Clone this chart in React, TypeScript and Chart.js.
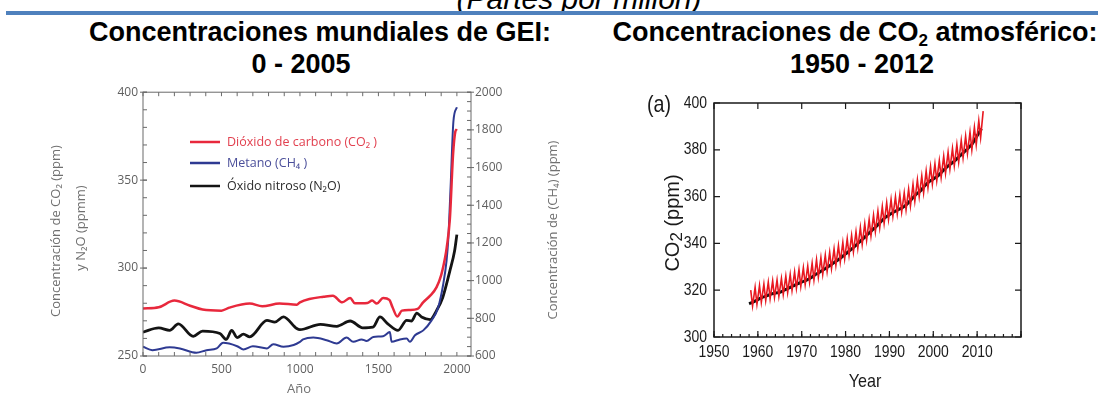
import React, { useEffect, useRef } from "react";
import { Chart, registerables } from "chart.js";

Chart.register(...registerables);

// ---------- Global GHG concentrations, year 0 – 2005 ----------
// [year, ppm] carbon dioxide (left axis)
const co2Ice: [number, number][] = [
  [0, 277], [100, 277.7], [200, 281.5], [300, 278.6], [380, 276.4], [500, 275.8], [550, 277.5],
  [680, 279.8], [760, 278.3], [870, 279.8], [980, 279.2], [1000, 280.5], [1060, 282.4], [1150, 283.7],
  [1210, 284.3], [1270, 280.5], [1320, 283], [1350, 280], [1430, 280.2], [1460, 281.5], [1490, 279.8],
  [1530, 283], [1570, 281.9], [1590, 277.7], [1620, 272.5], [1650, 275.8], [1700, 276.2], [1750, 276.8],
  [1785, 280.5], [1830, 284.3], [1870, 289], [1900, 296], [1925, 306], [1935, 311.5], [1955, 327.5],
  [1976, 365], [1990, 377.5], [2000, 379],
];
// [year, ppb] methane (right axis)
const ch4Ice: [number, number][] = [
  [0, 649], [60, 631], [170, 646], [235, 640], [340, 617], [405, 631], [470, 640], [510, 670],
  [600, 652], [640, 635], [700, 652], [790, 640], [830, 663], [895, 649], [960, 658], [1000, 675],
  [1020, 688], [1085, 698], [1170, 684], [1235, 667], [1297, 698], [1340, 675], [1393, 688],
  [1425, 680], [1467, 701], [1530, 705], [1573, 727], [1584, 675], [1637, 688], [1680, 693],
  [1701, 675], [1733, 710], [1786, 736], [1839, 789], [1881, 858], [1913, 981], [1934, 1103],
  [1945, 1217], [1960, 1496], [1978, 1846], [2000, 1920],
];
// [year, ppb] nitrous oxide (left axis)
const n2oIce: [number, number][] = [
  [0, 263.6], [100, 266], [170, 264.6], [225, 268.3], [320, 261.2], [380, 264.2], [490, 262.8],
  [530, 259.4], [565, 264.6], [600, 260.5], [640, 262.4], [680, 260.9], [790, 270.2], [840, 269.3],
  [895, 272.2], [980, 265.6], [1000, 265], [1130, 268], [1235, 266.9], [1320, 269.9], [1400, 266],
  [1465, 266.4], [1510, 272.2], [1560, 268.3], [1625, 264.6], [1680, 270.2], [1710, 269.9],
  [1745, 274.4], [1775, 272.2], [1830, 270.7], [1870, 275.8], [1910, 283.3], [1955, 298.3],
  [1985, 309.5], [2000, 319],
];
const ghgYearTicks = [0, 500, 1000, 1500, 2000];
const ghgPpmTicks = [250, 300, 350, 400];
const ghgPpbTicks = [600, 800, 1000, 1200, 1400, 1600, 1800, 2000];

// ---------- Atmospheric CO2, 1958 – 2011 ----------
const mloYears = [
  1958, 1959, 1960, 1961, 1962, 1963, 1964, 1965, 1966, 1967,
  1968, 1969, 1970, 1971, 1972, 1973, 1974, 1975, 1976, 1977,
  1978, 1979, 1980, 1981, 1982, 1983, 1984, 1985, 1986, 1987,
  1988, 1989, 1990, 1991, 1992, 1993, 1994, 1995, 1996, 1997,
  1998, 1999, 2000, 2001, 2002, 2003, 2004, 2005, 2006, 2007,
  2008, 2009, 2010, 2011,
];
// May maximum of each year
const mloPeak = [
  320.0, 321.2, 322.0, 322.6, 323.4, 324.0, 324.4, 325.0, 326.0, 326.8,
  327.8, 328.8, 329.6, 330.3, 331.6, 333.0, 333.9, 335.0, 336.2, 337.6,
  339.0, 340.4, 342.0, 343.4, 345.0, 346.8, 348.4, 350.2, 352.0, 353.8,
  355.8, 357.4, 358.8, 359.9, 360.8, 361.6, 363.2, 365.2, 367.2, 368.8,
  371.0, 372.8, 374.0, 375.4, 377.2, 379.0, 380.6, 382.2, 384.0, 385.8,
  387.6, 389.6, 392.4, 396.5,
];
// October minimum of each year
const mloTrough = [
  313.3, 314.0, 314.8, 315.6, 316.4, 317.0, 317.4, 318.2, 319.0, 319.9,
  320.8, 321.6, 322.4, 323.4, 324.4, 325.6, 326.8, 328.0, 329.2, 330.6,
  332.0, 333.4, 334.9, 336.4, 338.0, 339.6, 341.4, 343.2, 345.0, 346.8,
  348.6, 350.2, 351.6, 352.6, 353.4, 354.4, 356.0, 358.0, 360.0, 361.6,
  363.8, 365.4, 366.8, 368.2, 370.0, 371.8, 373.2, 374.8, 376.6, 378.4,
  380.0, 382.2, 385.2,
];
// seasonally adjusted trend
const mloTrend = [
  314.2, 315.0, 316.0, 316.9, 317.6, 318.3, 318.8, 319.1, 320.0, 320.9,
  321.8, 322.7, 323.5, 324.2, 325.2, 326.5, 327.6, 328.8, 330.0, 331.3,
  332.6, 334.0, 335.5, 337.0, 338.6, 340.3, 342.0, 343.8, 345.6, 347.3,
  349.2, 351.0, 352.3, 353.4, 354.4, 355.3, 356.8, 358.8, 360.8, 362.3,
  364.5, 366.3, 367.5, 368.8, 370.6, 372.5, 374.0, 375.5, 377.3, 379.0,
  380.8, 382.9, 386.0, 389.0,
];
const PEAK_MONTH = 5;
const TROUGH_MONTH = 10;
const mloYearTicks = [1950, 1960, 1970, 1980, 1990, 2000, 2010];
const mloPpmTicks = [300, 320, 340, 360, 380, 400];

const pairs = (rows: [number, number][]) => rows.map(([x, y]) => ({ x, y }));

// Box frame with inward tick marks
const framePlugin = {
  id: "frame",
  afterDatasetsDraw(chart: any, _args: any, opts: any) {
    if (!opts || !opts.color) return;
    const { ctx, chartArea: a } = chart;
    ctx.save();
    ctx.strokeStyle = opts.color;
    ctx.lineWidth = opts.width;
    ctx.strokeRect(a.left, a.top, a.right - a.left, a.bottom - a.top);
    ctx.lineWidth = opts.tickWidth || opts.width;
    for (const t of opts.ticks || []) {
      const s = chart.scales[t.scale];
      const first = Math.ceil(s.min / t.step - 1e-9);
      const last = Math.floor(s.max / t.step + 1e-9);
      const inn = t.len;
      const out = t.out || 0;
      ctx.beginPath();
      for (let k = first; k <= last; k++) {
        const v = k * t.step;
        if (t.side === "left") {
          const y = s.getPixelForValue(v);
          ctx.moveTo(a.left - out, y);
          ctx.lineTo(a.left + inn, y);
        } else if (t.side === "right") {
          const y = s.getPixelForValue(v);
          ctx.moveTo(a.right + out, y);
          ctx.lineTo(a.right - inn, y);
        } else if (t.side === "top") {
          const x = s.getPixelForValue(v);
          ctx.moveTo(x, a.top - out);
          ctx.lineTo(x, a.top + inn);
        } else {
          const x = s.getPixelForValue(v);
          ctx.moveTo(x, a.bottom + out);
          ctx.lineTo(x, a.bottom - inn);
        }
      }
      ctx.stroke();
    }
    ctx.restore();
  },
};

// Tick labels in a horizontally condensed face
const condensedTicksPlugin = {
  id: "condensedTicks",
  afterDraw(chart: any, _args: any, opts: any) {
    if (!opts || !opts.font) return;
    const { ctx, chartArea: a } = chart;
    ctx.save();
    ctx.font = opts.font;
    ctx.fillStyle = opts.color;
    ctx.textBaseline = "middle";
    const xs = chart.scales.x;
    ctx.textAlign = "center";
    for (const t of xs.ticks) {
      ctx.save();
      ctx.translate(xs.getPixelForValue(t.value), a.bottom + opts.xGap);
      ctx.scale(opts.sx, 1);
      ctx.fillText(String(t.value), 0, 0);
      ctx.restore();
    }
    const ys = chart.scales.y;
    ctx.textAlign = "right";
    for (const t of ys.ticks) {
      ctx.save();
      ctx.translate(a.left - opts.yGap, ys.getPixelForValue(t.value));
      ctx.scale(opts.sx, 1);
      ctx.fillText(String(t.value), 0, 0);
      ctx.restore();
    }
    ctx.restore();
  },
};

// Free text (axis titles, panel letter), optionally rotated, condensed or in mixed sizes
const notesPlugin = {
  id: "notes",
  afterDraw(chart: any, _args: any, opts: any) {
    if (!opts || !opts.items) return;
    const ctx = chart.ctx;
    for (const it of opts.items) {
      ctx.save();
      ctx.translate(it.x, it.y);
      if (it.rot) ctx.rotate(it.rot);
      if (it.sx) ctx.scale(it.sx, 1);
      ctx.fillStyle = it.color;
      ctx.textBaseline = "middle";
      ctx.textAlign = "left";
      const parts = it.parts || [{ t: it.text, font: it.font }];
      let total = 0;
      for (const p of parts) {
        ctx.font = p.font;
        total += ctx.measureText(p.t).width;
      }
      let cx = -total / 2;
      for (const p of parts) {
        ctx.font = p.font;
        ctx.fillText(p.t, cx, p.dy || 0);
        cx += ctx.measureText(p.t).width;
      }
      ctx.restore();
    }
  },
};

// Line-sample key drawn inside the plot from the dataset labels
const lineKeyPlugin = {
  id: "lineKey",
  afterDraw(chart: any, _args: any, opts: any) {
    if (!opts || !opts.ys) return;
    const ctx = chart.ctx;
    ctx.save();
    ctx.font = opts.font;
    ctx.textBaseline = "middle";
    chart.data.datasets.forEach((ds: any, i: number) => {
      const y = opts.ys[i];
      ctx.strokeStyle = ds.borderColor;
      ctx.lineWidth = opts.lineWidth;
      ctx.beginPath();
      ctx.moveTo(opts.x1, y);
      ctx.lineTo(opts.x2, y);
      ctx.stroke();
      ctx.fillStyle = opts.textColors[i];
      ctx.fillText(ds.label, opts.tx, y);
    });
    ctx.restore();
  },
};

Chart.register(framePlugin, condensedTicksPlugin, notesPlugin, lineKeyPlugin);

const setTicks = (vals: number[]) => (s: any) => {
  s.ticks = vals.map((v) => ({ value: v }));
};
const plain = (v: any) => String(v);

const GREY = "#6a6a6a";
const SANS = '"Open Sans", "Noto Sans", sans-serif';
const ARIAL = '"Liberation Sans", Arial, sans-serif';
const noGrid = { display: false, drawTicks: false };

function ghgConfig(): any {
  return {
    type: "line",
    data: {
      datasets: [
        {
          label: "Dióxido de carbono (CO₂ )",
          data: pairs(co2Ice),
          yAxisID: "y",
          borderColor: "#e8283c",
          borderWidth: 2.5,
        },
        {
          label: "Metano (CH₄ )",
          data: pairs(ch4Ice),
          yAxisID: "y2",
          borderColor: "#2e3a92",
          borderWidth: 2,
        },
        {
          label: "Óxido nitroso (N₂O)",
          data: pairs(n2oIce),
          yAxisID: "y",
          borderColor: "#141414",
          borderWidth: 2.8,
        },
      ],
    },
    options: {
      animation: false,
      responsive: false,
      devicePixelRatio: 1,
      parsing: false,
      elements: { point: { radius: 0 }, line: { cubicInterpolationMode: "monotone" } },
      layout: { padding: { top: 9, right: 0, bottom: 0, left: 0 } },
      plugins: {
        legend: { display: false },
        tooltip: { enabled: false },
        frame: {
          color: GREY,
          width: 1,
          ticks: [
            { scale: "y", side: "left", step: 10, len: 4 },
            { scale: "y", side: "left", step: 50, len: 4, out: 3 },
            { scale: "y2", side: "right", step: 50, len: 4 },
            { scale: "y2", side: "right", step: 200, len: 4, out: 3 },
            { scale: "x", side: "bottom", step: 100, len: 4 },
            { scale: "x", side: "top", step: 100, len: 4 },
          ],
        },
        lineKey: {
          x1: 190,
          x2: 220,
          tx: 227,
          ys: [62, 83, 106],
          lineWidth: 2.5,
          font: `12.5px ${SANS}`,
          textColors: ["#e2404f", "#4b4f9a", "#2b2b2b"],
        },
        notes: {
          items: [
            { text: "Concentración de CO₂ (ppm)", x: 56, y: 151, rot: -Math.PI / 2, font: `13px ${SANS}`, color: "#707070" },
            { text: "y N₂O (ppmm)", x: 81, y: 148, rot: -Math.PI / 2, font: `13px ${SANS}`, color: "#707070" },
            { text: "Concentración de (CH₄) (ppm)", x: 553, y: 150, rot: -Math.PI / 2, font: `13px ${SANS}`, color: "#707070" },
            { text: "Año", x: 299, y: 309, font: `13px ${SANS}`, color: "#707070" },
            { text: "IPCC(2007)", x: 86, y: 327, font: `13px ${SANS}`, color: "#9a9a9a" },
          ],
        },
      },
      scales: {
        x: {
          type: "linear",
          min: 0,
          max: 2090,
          afterBuildTicks: setTicks(ghgYearTicks),
          afterFit: (s: any) => { s.height = 45; },
          grid: noGrid,
          border: { display: false },
          ticks: { color: "#5f5f5f", font: { family: SANS, size: 12 }, padding: 6, maxRotation: 0, callback: plain },
        },
        y: {
          position: "left",
          min: 250,
          max: 400,
          afterBuildTicks: setTicks(ghgPpmTicks),
          afterFit: (s: any) => { s.width = 143; },
          grid: noGrid,
          border: { display: false },
          ticks: { color: "#5f5f5f", font: { family: SANS, size: 12 }, padding: 5, callback: plain },
        },
        y2: {
          position: "right",
          min: 600,
          max: 2000,
          afterBuildTicks: setTicks(ghgPpbTicks),
          afterFit: (s: any) => { s.width = 129; },
          grid: noGrid,
          border: { display: false },
          ticks: { color: "#5f5f5f", font: { family: SANS, size: 12 }, padding: 4, callback: plain },
        },
      },
    },
  };
}

function mloConfig(): any {
  const monthly: { x: number; y: number }[] = [];
  mloYears.forEach((yr, i) => {
    monthly.push({ x: yr + (PEAK_MONTH - 0.5) / 12, y: mloPeak[i] });
    if (i < mloTrough.length) monthly.push({ x: yr + (TROUGH_MONTH - 0.5) / 12, y: mloTrough[i] });
  });
  const trend = mloYears.map((yr, i) => ({ x: yr, y: mloTrend[i] }));
  return {
    type: "line",
    data: {
      datasets: [
        { label: "monthly", data: monthly, borderColor: "#e81820", borderWidth: 1.6, tension: 0 },
        { label: "trend", data: trend, borderColor: "#111111", borderWidth: 3, cubicInterpolationMode: "monotone" },
      ],
    },
    options: {
      animation: false,
      responsive: false,
      devicePixelRatio: 1,
      parsing: false,
      elements: { point: { radius: 0 } },
      layout: { padding: { top: 23, right: 83, bottom: 0, left: 0 } },
      plugins: {
        legend: { display: false },
        tooltip: { enabled: false },
        frame: {
          color: "#1a1a1a",
          width: 1.5,
          tickWidth: 1.2,
          ticks: [
            { scale: "x", side: "bottom", step: 10, len: 6 },
            { scale: "x", side: "bottom", step: 2, len: 3 },
            { scale: "x", side: "top", step: 10, len: 6 },
            { scale: "y", side: "left", step: 20, len: 6 },
            { scale: "y", side: "right", step: 20, len: 6 },
          ],
        },
        condensedTicks: {
          font: `17px ${ARIAL}`,
          color: "#1a1a1a",
          sx: 0.82,
          xGap: 15,
          yGap: 7,
        },
        notes: {
          items: [
            { text: "(a)", x: 59, y: 25, sx: 0.82, font: `24px ${ARIAL}`, color: "#1a1a1a" },
            {
              x: 73,
              y: 143,
              rot: -Math.PI / 2,
              color: "#1a1a1a",
              parts: [
                { t: "CO", font: `20px ${ARIAL}` },
                { t: "2", font: `17px ${ARIAL}`, dy: 4 },
                { t: " (ppm)", font: `20px ${ARIAL}` },
              ],
            },
            { text: "Year", x: 265, y: 302, sx: 0.85, font: `19px ${ARIAL}`, color: "#1a1a1a" },
          ],
        },
      },
      scales: {
        x: {
          type: "linear",
          min: 1950,
          max: 2020,
          afterBuildTicks: setTicks(mloYearTicks),
          afterFit: (s: any) => { s.height = 64; },
          grid: noGrid,
          border: { display: false },
          ticks: { display: false },
        },
        y: {
          position: "left",
          min: 300,
          max: 400,
          afterBuildTicks: setTicks(mloPpmTicks),
          afterFit: (s: any) => { s.width = 114; },
          grid: noGrid,
          border: { display: false },
          ticks: { display: false },
        },
      },
    },
  };
}

function Line({ cx, base, size, children, style }: any) {
  return (
    <div
      style={{
        position: "absolute",
        left: cx,
        top: base - 0.8465 * size,
        transform: "translateX(-50%)",
        whiteSpace: "nowrap",
        fontFamily: ARIAL,
        fontSize: size,
        lineHeight: `${size}px`,
        color: "#000",
        ...style,
      }}
    >
      {children}
    </div>
  );
}

export default function App() {
  const leftRef = useRef<HTMLCanvasElement>(null);
  const rightRef = useRef<HTMLCanvasElement>(null);

  useEffect(() => {
    const ghg = new Chart(leftRef.current as HTMLCanvasElement, ghgConfig());
    const mlo = new Chart(rightRef.current as HTMLCanvasElement, mloConfig());
    return () => {
      ghg.destroy();
      mlo.destroy();
    };
  }, []);

  const bold = { fontWeight: 700 };
  return (
    <div
      style={{
        position: "fixed",
        left: 0,
        top: 0,
        width: 1104,
        height: 401,
        overflow: "hidden",
        background: "#fff",
      }}
    >
      <Line cx={579} base={9} size={30} style={{ fontStyle: "italic" }}>
        (Partes por millón)
      </Line>
      <div style={{ position: "absolute", left: 6, top: 11, width: 1092, height: 4, background: "#4f81bd" }} />
      <Line cx={320} base={42} size={27} style={bold}>
        Concentraciones mundiales de GEI:
      </Line>
      <Line cx={301} base={74} size={27} style={bold}>
        0 - 2005
      </Line>
      <Line cx={855} base={42} size={27} style={bold}>
        Concentraciones de CO<sub style={{ fontSize: 17, verticalAlign: "-5px", lineHeight: 0 }}>2</sub> atmosférico:
      </Line>
      <Line cx={862} base={74} size={27} style={bold}>
        1950 - 2012
      </Line>
      <canvas
        ref={leftRef}
        width={600}
        height={321}
        style={{ position: "absolute", left: 0, top: 80, width: 600, height: 321 }}
      />
      <canvas
        ref={rightRef}
        width={504}
        height={321}
        style={{ position: "absolute", left: 600, top: 80, width: 504, height: 321 }}
      />
    </div>
  );
}
